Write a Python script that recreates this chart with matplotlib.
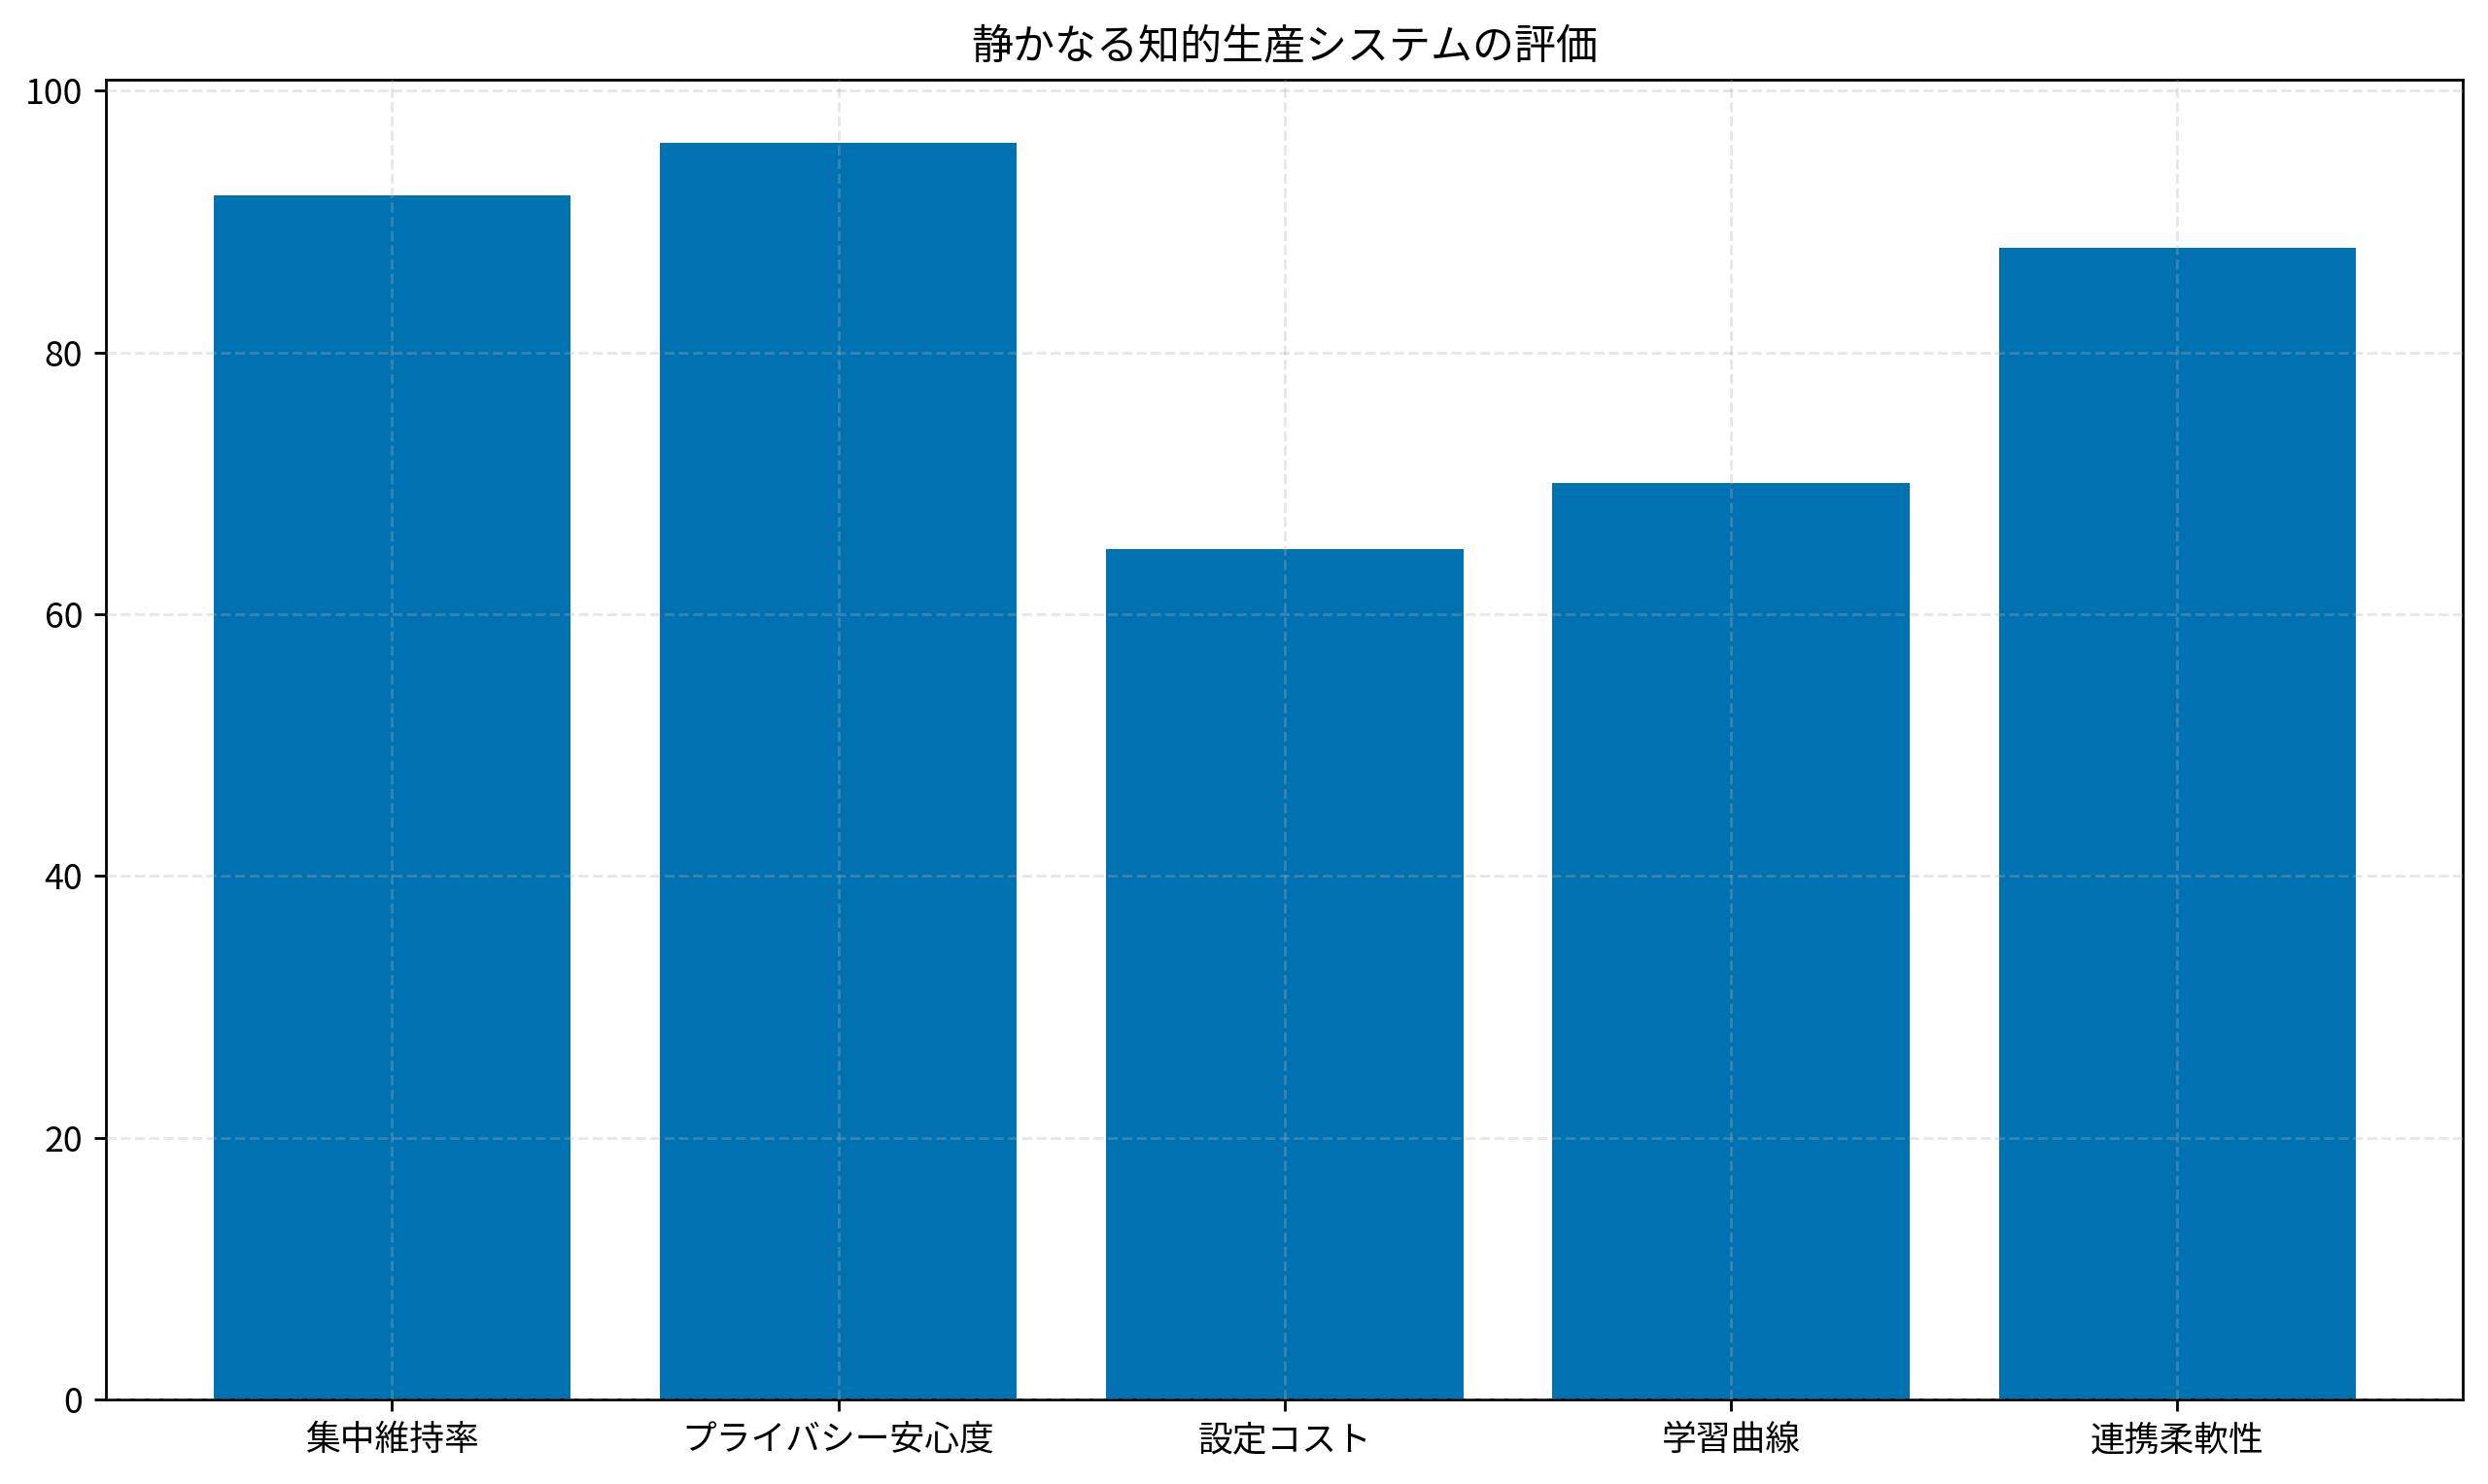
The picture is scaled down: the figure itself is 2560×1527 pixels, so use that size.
import matplotlib
matplotlib.use("Agg")
import matplotlib.pyplot as plt

categories = ["集中維持率", "プライバシー安心度", "設定コスト", "学習曲線", "連携柔軟性"]
values = [92, 96, 65, 70, 88]
title = "静かなる知的生産システムの評価"

plt.rcParams['font.family'] = ['Noto Sans CJK JP', 'DejaVu Sans']

fig, ax = plt.subplots(figsize=(10.24, 6.108), dpi=250)
ax.bar(categories, values, color="#0072B2", width=0.8, zorder=1)
ax.grid(True, linestyle="--", alpha=0.3, zorder=3)
ax.set_axisbelow(False)
ax.set_title(title, fontsize=12.4)
ax.tick_params(labelsize=10.3)
fig.subplots_adjust(left=0.0427, right=0.990, top=0.946, bottom=0.057)
fig.savefig("out.png", dpi=250)
